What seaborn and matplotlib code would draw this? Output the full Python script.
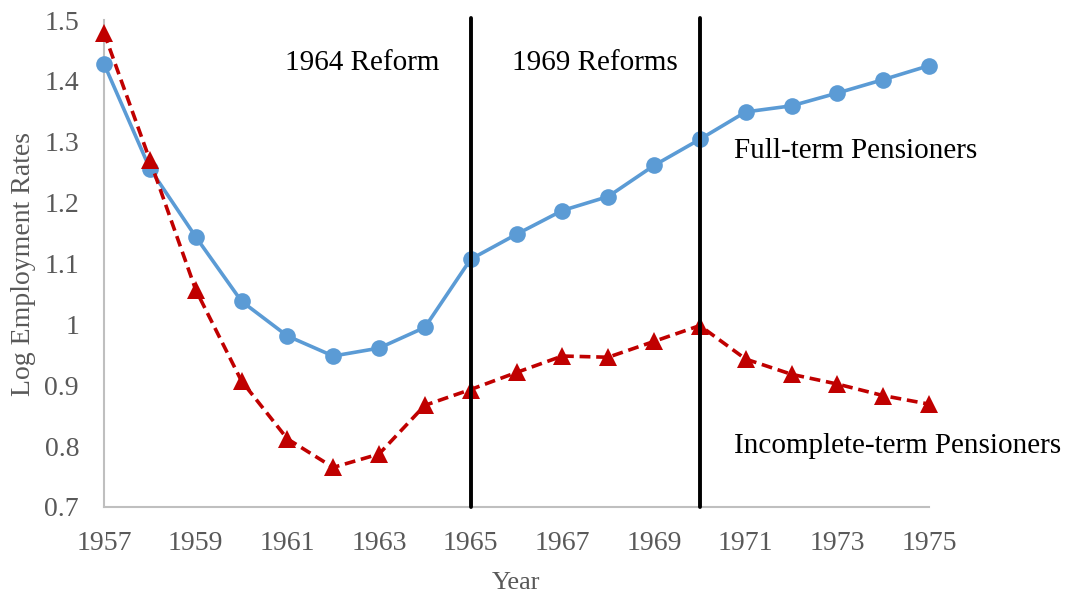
import numpy as np
import pandas as pd
import matplotlib
matplotlib.use("Agg")
import matplotlib.pyplot as plt
import seaborn as sns

years = list(range(1957, 1976))
full_term = [1.428, 1.256, 1.144, 1.038, 0.981, 0.948, 0.961, 0.995, 1.107, 1.148,
             1.187, 1.210, 1.261, 1.304, 1.349, 1.359, 1.380, 1.402, 1.425]
incomplete_term = [1.479, 1.270, 1.057, 0.907, 0.812, 0.765, 0.787, 0.867, 0.893, 0.921,
                   0.948, 0.946, 0.972, 0.998, 0.943, 0.918, 0.902, 0.883, 0.869]
reform_years = [1965, 1970]
x_ticks = list(range(1957, 1976, 2))
y_ticks = [0.7, 0.8, 0.9, 1.0, 1.1, 1.2, 1.3, 1.4, 1.5]
y_tick_labels = ["0.7", "0.8", "0.9", "1", "1.1", "1.2", "1.3", "1.4", "1.5"]

df = pd.DataFrame({"Year": years, "Full": full_term, "Incomplete": incomplete_term})

sns.set_theme(style="white")
plt.rcParams["font.family"] = ["Liberation Serif", "DejaVu Serif"]

fig = plt.figure(figsize=(10.66, 5.96), dpi=100)
ax = fig.add_axes([104/1066, 1 - 507/596, (929-104)/1066, (507-20)/596])

sns.lineplot(data=df, x="Year", y="Full", ax=ax, color="#5B9BD5", linewidth=2.6,
             marker="o", markersize=12, markeredgewidth=0, clip_on=False, zorder=3)
sns.lineplot(data=df, x="Year", y="Incomplete", ax=ax, color="#C00000", linewidth=2.6,
             linestyle=(0, (3, 1.6)), marker="^", markersize=12.5, markeredgewidth=0,
             clip_on=False, zorder=3)

for ry in reform_years:
    ax.axvline(ry, ymin=0, ymax=1.005, color="black", linewidth=2.8, zorder=5, clip_on=False)

ax.set_xlim(1957, 1975)
ax.set_ylim(0.7, 1.5)
ax.set_xticks(x_ticks)
ax.set_xticklabels([str(t) for t in x_ticks])
ax.set_yticks(y_ticks)
ax.set_yticklabels(y_tick_labels)
ax.tick_params(axis="both", length=0, labelsize=20, labelcolor="#595959")
ax.tick_params(axis="x", pad=17.5)
ax.tick_params(axis="y", pad=18)

for side in ["top", "right"]:
    ax.spines[side].set_visible(False)
for side in ["left", "bottom"]:
    ax.spines[side].set_color("#BFBFBF")
    ax.spines[side].set_linewidth(1.5)

ax.set_xlabel("Year", fontsize=19, color="#595959", labelpad=11)
ax.set_ylabel("Log Employment Rates", fontsize=20, color="#595959", labelpad=6)

ax.text(1962.63, 1.43, "1964 Reform", fontsize=21, color="black", ha="center", va="center")
ax.text(1965.9, 1.43, "1969 Reforms", fontsize=21, color="black", ha="left", va="center")
ax.text(1970.75, 1.284, "Full-term Pensioners", fontsize=21, color="black", ha="left", va="center")
ax.text(1970.75, 0.801, "Incomplete-term Pensioners", fontsize=21, color="black", ha="left", va="center")

fig.savefig("out.png", dpi=100)
